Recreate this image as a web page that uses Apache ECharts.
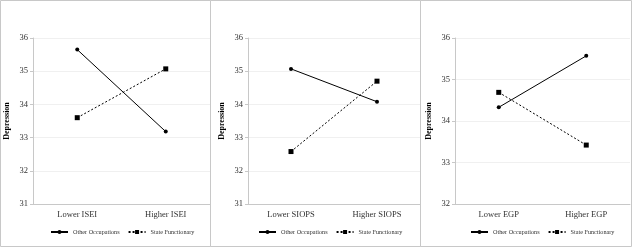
<!DOCTYPE html>
<html>
<head>
<meta charset="utf-8">
<script src="https://cdn.jsdelivr.net/npm/echarts@6/dist/echarts.min.js"></script>
<style>
  html, body { margin: 0; padding: 0; background: #fff; }
  #chart { width: 633px; height: 248px; }
</style>
</head>
<body>
<div id="chart"></div>
<script>
// three panels, one per occupational status measure
var panelCategories = [
  ['Lower ISEI', 'Higher ISEI'],
  ['Lower SIOPS', 'Higher SIOPS'],
  ['Lower EGP', 'Higher EGP']
];
var otherOccupations = [
  [35.65, 33.18],
  [35.07, 34.08],
  [34.33, 35.57]
];
var stateFunctionary = [
  [33.6, 35.07],
  [32.58, 34.7],
  [34.69, 33.42]
];
var yMin = [31, 31, 32];
var yMax = [36, 36, 36];
var seriesNames = ['Other Occupations', 'State Functionary'];

var serif = '"Liberation Serif", "Times New Roman", serif';
var textColor = '#333';

// pixel layout of each panel
var grids = [
  { left: 33, width: 177, top: 38, height: 166 },
  { left: 248, width: 172, top: 38, height: 166 },
  { left: 455, width: 175, top: 38, height: 166 }
];
var legendLeft = [50, 258, 470];

var chart = echarts.init(document.getElementById('chart'), null, { renderer: 'canvas' });

var xAxes = [], yAxes = [], series = [], legends = [];
for (var i = 0; i < 3; i++) {
  xAxes.push({
    type: 'category',
    gridIndex: i,
    data: panelCategories[i],
    boundaryGap: true,
    axisLine: { lineStyle: { color: '#c8c8c8', width: 1 } },
    axisTick: { show: false },
    axisLabel: { fontFamily: serif, fontSize: 8.5, color: textColor, margin: 6 }
  });
  yAxes.push({
    type: 'value',
    gridIndex: i,
    min: yMin[i],
    max: yMax[i],
    interval: 1,
    name: 'Depression',
    nameLocation: 'middle',
    nameGap: 22,
    nameTextStyle: { fontFamily: serif, fontSize: 8, fontWeight: 'bold', color: '#000' },
    axisLine: { show: true, lineStyle: { color: '#c8c8c8', width: 1 } },
    axisTick: { show: true, length: 3, lineStyle: { color: '#c8c8c8' } },
    axisLabel: { fontFamily: serif, fontSize: 8.5, color: textColor, margin: 5 },
    splitLine: { lineStyle: { color: '#f0f0f0', width: 1 } }
  });
  series.push({
    name: seriesNames[0],
    type: 'line',
    xAxisIndex: i,
    yAxisIndex: i,
    data: otherOccupations[i],
    symbol: 'circle',
    symbolSize: 4,
    itemStyle: { color: '#000' },
    lineStyle: { color: '#000', width: 1, type: 'solid' }
  });
  series.push({
    name: seriesNames[1],
    type: 'line',
    xAxisIndex: i,
    yAxisIndex: i,
    data: stateFunctionary[i],
    symbol: 'rect',
    symbolSize: 5,
    itemStyle: { color: '#000' },
    lineStyle: { color: '#000', width: 1, type: [2, 2] }
  });
  legends.push({
    left: legendLeft[i],
    top: 229,
    width: 200,
    padding: 0,
    itemWidth: 17,
    itemHeight: 5,
    itemGap: 8,
    data: seriesNames,
    textStyle: { fontFamily: serif, fontSize: 6.2, color: textColor }
  });
}

var option = {
  animation: false,
  backgroundColor: '#fff',
  grid: grids,
  xAxis: xAxes,
  yAxis: yAxes,
  legend: legends,
  series: series,
  graphic: [
    { type: 'rect', shape: { x: 0.5, y: 0.5, width: 210, height: 246 }, style: { fill: 'none', stroke: '#c8c8c8', lineWidth: 1 } },
    { type: 'rect', shape: { x: 210.5, y: 0.5, width: 210, height: 246 }, style: { fill: 'none', stroke: '#c8c8c8', lineWidth: 1 } },
    { type: 'rect', shape: { x: 420.5, y: 0.5, width: 211, height: 246 }, style: { fill: 'none', stroke: '#c8c8c8', lineWidth: 1 } }
  ]
};
chart.setOption(option);
</script>
</body>
</html>
